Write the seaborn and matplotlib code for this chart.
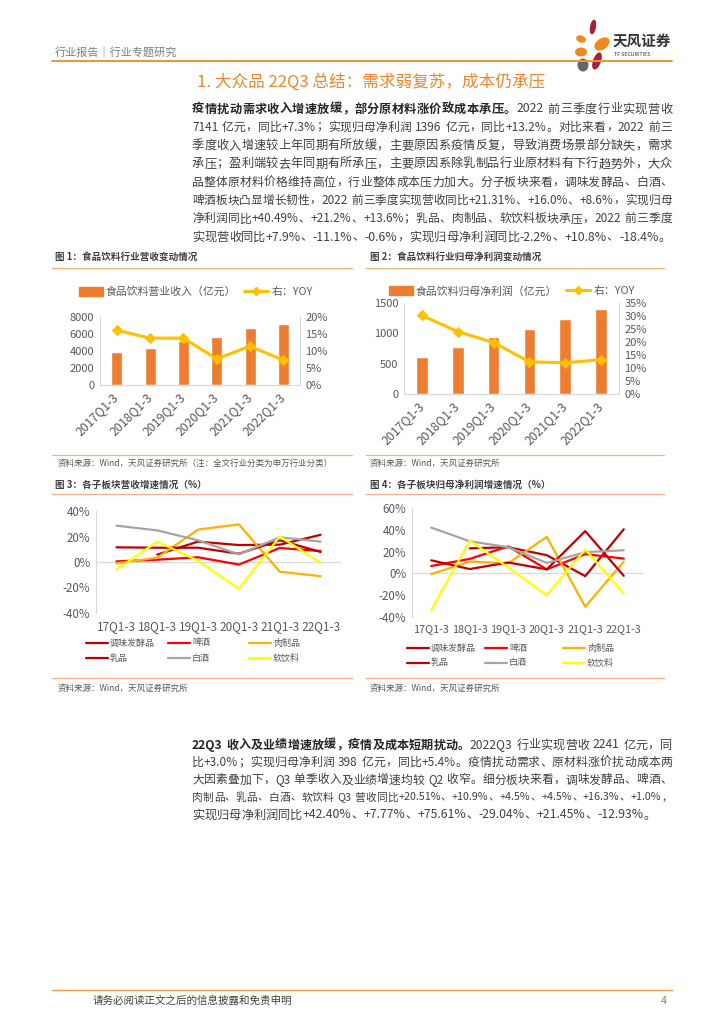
import re
import numpy as np
import pandas as pd
import matplotlib
matplotlib.use('Agg')
import matplotlib.pyplot as plt
import seaborn as sns
from matplotlib.patches import Ellipse, Rectangle
from matplotlib.lines import Line2D

# ---- data ----
years = ['2017Q1-3', '2018Q1-3', '2019Q1-3', '2020Q1-3', '2021Q1-3', '2022Q1-3']
revenue = [3840, 4390, 5210, 5690, 6700, 7141]          # 亿元
revenue_yoy = [16.1, 13.8, 13.8, 7.7, 11.4, 7.3]        # %
profit = [607, 778, 943, 1070, 1241, 1396]              # 亿元
profit_yoy = [30.2, 24.0, 19.8, 12.4, 12.0, 13.2]       # %

quarters = ['17Q1-3', '18Q1-3', '19Q1-3', '20Q1-3', '21Q1-3', '22Q1-3']
sectors = ['调味发酵品', '啤酒', '肉制品', '乳品', '白酒', '软饮料']
sector_colors = ['#C00000', '#FF0000', '#FFB000', '#C00000', '#A5A5A5', '#FFFF00']

# 营收增速 (%)
rev_seasoning = [np.nan, 5.8, 16.0, 13.3, 13.6, 21.3]
rev_beer = [0.5, 1.8, 3.7, -2.0, 11.0, 8.6]
rev_meat = [-1.0, 3.4, 25.4, 29.5, -7.6, -11.1]
rev_dairy = [11.5, 11.2, 11.2, 6.5, 17.0, 7.9]
rev_baijiu = [28.5, 24.8, 17.0, 6.0, 19.4, 16.0]
rev_soft = [-6.0, 16.0, 1.0, -21.0, 20.0, -0.6]

# 归母净利润增速 (%)
np_seasoning = [np.nan, 23.0, 24.0, 16.7, -2.5, 40.5]
np_beer = [6.8, 13.3, 24.8, 3.7, 17.7, 13.6]
np_meat = [-0.6, 10.8, 9.3, 33.5, -30.5, 10.8]
np_dairy = [12.0, 4.0, 10.0, 3.7, 38.8, -2.2]
np_baijiu = [42.0, 29.5, 24.0, 9.6, 19.5, 21.2]
np_soft = [-33.5, 30.0, 5.6, -20.0, 22.0, -18.4]

para1 = [
    [('疫情扰动需求收入增速放缓，部分原材料涨价致成本承压。', 'bold'), ('2022 前三季度行业实现营收', 'normal')],
    [('7141 亿元，同比+7.3%；实现归母净利润 1396 亿元，同比+13.2%。对比来看，2022 前三', 'normal')],
    [('季度收入增速较上年同期有所放缓，主要原因系疫情反复，导致消费场景部分缺失，需求', 'normal')],
    [('承压；盈利端较去年同期有所承压，主要原因系除乳制品行业原材料有下行趋势外，大众', 'normal')],
    [('品整体原材料价格维持高位，行业整体成本压力加大。分子板块来看，调味发酵品、白酒、', 'normal')],
    [('啤酒板块凸显增长韧性，2022 前三季度实现营收同比+21.31%、+16.0%、+8.6%，实现归母', 'normal')],
    [('净利润同比+40.49%、+21.2%、+13.6%；乳品、肉制品、软饮料板块承压，2022 前三季度', 'normal')],
    [('实现营收同比+7.9%、-11.1%、-0.6%，实现归母净利润同比-2.2%、+10.8%、-18.4%。', 'normal')],
]
para2 = [
    [('22Q3 收入及业绩增速放缓，疫情及成本短期扰动。', 'bold'), ('2022Q3 行业实现营收 2241 亿元，同', 'normal')],
    [('比+3.0%；实现归母净利润 398 亿元，同比+5.4%。疫情扰动需求、原材料涨价扰动成本两', 'normal')],
    [('大因素叠加下，Q3 单季收入及业绩增速均较 Q2 收窄。细分板块来看，调味发酵品、啤酒、', 'normal')],
    [('肉制品、乳品、白酒、软饮料 Q3 营收同比+20.51%、+10.9%、+4.5%、+4.5%、+16.3%、+1.0%，', 'normal')],
    [('实现归母净利润同比+42.40%、+7.77%、+75.61%、-29.04%、+21.45%、-12.93%。', 'normal')],
]

# ---- style ----
sns.set_style('white')
FONT = ['Noto Sans CJK SC', 'DejaVu Sans']
plt.rcParams['font.family'] = FONT
plt.rcParams['axes.unicode_minus'] = False

W, H = 724, 1024
fig = plt.figure(figsize=(W / 100, H / 100), dpi=100)
r = fig.canvas.get_renderer()

ORANGE = '#ED7D31'
GOLD = '#FFC000'
GRID = '#D9D9D9'
TICK = '#595959'
BODY = '#404040'


def fx(x):
    return x / W


def fy(y):
    return 1 - y / H


def box(left, top, right, bottom):
    return fig.add_axes([fx(left), fy(bottom), (right - left) / W, (bottom - top) / H])


def hline(x0, x1, y, color, lw=0.9):
    fig.add_artist(Line2D([fx(x0), fx(x1)], [fy(y), fy(y)], color=color, lw=lw))


def put_line(parts, x0, x1, y, size, justify=True):
    # lay out one justified line token by token
    toks = []
    for txt, weight in parts:
        for m in re.finditer(r'( ?)([A-Za-z0-9.+\-%]+|\S)', txt):
            toks.append((m.group(2), weight, m.group(1) == ' '))
    objs = [fig.text(0, fy(y), t, fontsize=size, fontweight=w, va='center', ha='left',
                     color='#262626' if w == 'bold' else BODY, family=FONT) for t, w, _ in toks]
    n_sp = sum(1 for t in toks[1:] if t[2])

    def measure(sz):
        ws = [o.get_window_extent(r).width for o in objs]
        return ws, sum(ws) + sz * 1.39 * 0.3 * n_sp

    widths, total = measure(size)
    if total > x1 - x0:
        # line too long: shrink its font a little so it fits
        size = size * (x1 - x0) / total * 0.995
        for o in objs:
            o.set_fontsize(size)
        widths, total = measure(size)
    space = size * 1.39 * 0.3
    extra = (x1 - x0 - total) / (len(toks) - 1) if justify and len(toks) > 1 else 0
    extra = max(extra, 0)
    x = x0
    for i, (o, wd) in enumerate(zip(objs, widths)):
        if i > 0 and toks[i][2]:
            x += space
        o.set_x(fx(x))
        x += wd + extra


# ---- page header ----
fig.text(fx(55), fy(52), '行业报告｜行业专题研究', fontsize=8, color='#7F7F7F', va='center')
hline(52, 672, 61, '#F0923A', 1.4)
lg = fig.add_axes([fx(565), fy(74), 50 / W, 58 / H])
lg.set_xlim(565, 615)
lg.set_ylim(74, 16)
lg.axis('off')
for (cx, cy, ew, eh, ang, col) in [(593, 27, 6, 15, 10, '#A8213A'), (581, 39, 10, 7, 20, '#F08A1C'),
                                   (602, 44, 17, 11, -35, '#F08A1C'), (581, 52, 12, 9, 0, '#F08A1C'),
                                   (583, 65, 11, 13, 0, '#666666'), (597, 61, 8, 18, 20, '#A8213A')]:
    lg.add_patch(Ellipse((cx, cy), ew, eh, angle=ang, color=col, lw=0))
fig.text(fx(613), fy(41), '天风证券', fontsize=10.5, fontweight='bold', color='#333333', va='center')
fig.text(fx(614), fy(54), 'TF SECURITIES', fontsize=3.8, color='#333333', va='center')

fig.text(fx(371), fy(82), '1. 大众品 22Q3 总结：需求弱复苏，成本仍承压', fontsize=12,
         color='#F0862A', ha='center', va='center')

for i, parts in enumerate(para1):
    put_line(parts, 192, 672, 109 + i * 18.3, 8.8, justify=i < len(para1) - 1)

# ---- captions ----
fig.text(fx(55), fy(257), '图 1：食品饮料行业营收变动情况', fontsize=6.9, fontweight='bold', color=BODY, va='center')
fig.text(fx(370), fy(257), '图 2：食品饮料行业归母净利润变动情况', fontsize=6.9, fontweight='bold', color=BODY, va='center')
hline(52, 352, 268, '#F7B27A')
hline(366, 664, 268, '#F7B27A')


def bar_line(left, top, right, bottom, vals, yoy, ymax, ystep, rmax, rstep, label, leg_x, leg_y, gap):
    ax = box(left, top, right, bottom)
    df = pd.DataFrame({'期间': years, '值': vals, 'YOY': yoy})
    sns.barplot(data=df, x='期间', y='值', color=ORANGE, width=0.33, saturation=1, ax=ax)
    ax2 = ax.twinx()
    sns.lineplot(data=df, x='期间', y='YOY', color=GOLD, lw=2.2, marker='D', markersize=5,
                 markeredgecolor=GOLD, ax=ax2, sort=False)
    ax.set_xlim(-0.5, 5.5)
    ax.set_ylim(0, ymax)
    ax.set_yticks(np.arange(0, ymax + 1, ystep))
    ax2.set_ylim(0, rmax)
    ax2.set_yticks(np.arange(0, rmax + 0.1, rstep))
    ax2.set_yticklabels([f'{v:.0f}%' for v in np.arange(0, rmax + 0.1, rstep)])
    for a in (ax, ax2):
        a.set_xlabel('')
        a.set_ylabel('')
        a.tick_params(length=0, labelsize=8, labelcolor=TICK, pad=4)
        for s in a.spines.values():
            s.set_color(GRID)
            s.set_linewidth(0.8)
        a.spines['top'].set_visible(False)
    ax.spines['right'].set_visible(False)
    ax.tick_params(axis='x', pad=7, labelsize=8.8)
    for t in ax.get_xticklabels():
        t.set_rotation(45)
        t.set_ha('right')
        t.set_va('center')
        t.set_rotation_mode('anchor')
    h = [Rectangle((0, 0), 1, 1, color=ORANGE),
         Line2D([], [], color=GOLD, lw=2.2, marker='D', markersize=4)]
    fig.legend(h, [label, '右：YOY'], loc='center left', bbox_to_anchor=(fx(leg_x), fy(leg_y)),
               ncol=2, frameon=False, fontsize=7.8, handlelength=2.2, handleheight=0.8,
               columnspacing=gap, handletextpad=0.3, borderpad=0, borderaxespad=0, labelcolor=TICK)


bar_line(100, 317, 300, 385, revenue, revenue_yoy, 8000, 2000, 20, 5,
         '食品饮料营业收入（亿元）', 79, 292, 0.7)
bar_line(404, 303, 619, 394, profit, profit_yoy, 1500, 500, 35, 5,
         '食品饮料归母净利润（亿元）', 389, 291, 0.8)

hline(52, 352, 455, '#F7B27A')
hline(366, 664, 455, '#F7B27A')
fig.text(fx(58), fy(463), '资料来源：Wind，天风证券研究所（注：全文行业分类为申万行业分类）', fontsize=6.1, color=TICK, va='center')
fig.text(fx(370), fy(463), '资料来源：Wind，天风证券研究所', fontsize=6.1, color=TICK, va='center')

fig.text(fx(55), fy(485), '图 3：各子板块营收增速情况（%）', fontsize=6.9, fontweight='bold', color=BODY, va='center')
fig.text(fx(370), fy(485), '图 4：各子板块归母净利润增速情况（%）', fontsize=6.9, fontweight='bold', color=BODY, va='center')
hline(52, 352, 494, '#F7B27A')
hline(366, 664, 494, '#F7B27A')


def sector_chart(left, top, right, bottom, series, ymin, ymax, leg_cols, leg_rows, xsize):
    ax = box(left, top, right, bottom)
    df = pd.DataFrame({'季度': quarters * len(sectors),
                       '板块': np.repeat(sectors, len(quarters)),
                       '增速': np.concatenate(series)})
    ax.axhline(0, color=GRID, lw=0.9, zorder=0)
    sns.lineplot(data=df, x='季度', y='增速', hue='板块', hue_order=sectors,
                 palette=dict(zip(sectors, sector_colors)), lw=1.6, sort=False, legend=False, ax=ax)
    ax.set_xlim(-0.5, 5.5)
    ax.set_ylim(ymin, ymax)
    ticks = np.arange(ymin, ymax + 1, 20)
    ax.set_yticks(ticks)
    ax.set_yticklabels([f'{v:.0f}%' for v in ticks])
    ax.set_xlabel('')
    ax.set_ylabel('')
    ax.tick_params(length=0, labelsize=8.3, labelcolor=TICK, pad=4)
    ax.tick_params(axis='x', labelsize=xsize, pad=5)
    for s in ('top', 'right', 'bottom'):
        ax.spines[s].set_visible(False)
    ax.spines['left'].set_color(GRID)
    ax.spines['left'].set_linewidth(0.8)
    for i, (name, col) in enumerate(zip(sectors, sector_colors)):
        x0 = leg_cols[i % 3]
        y0 = leg_rows[i // 3]
        fig.add_artist(Line2D([fx(x0), fx(x0 + 22)], [fy(y0), fy(y0)], color=col, lw=1.6))
        fig.text(fx(x0 + 24), fy(y0), name, fontsize=6.5, color=TICK, va='center')


sector_chart(96, 511, 341, 613, [rev_seasoning, rev_beer, rev_meat, rev_dairy, rev_baijiu, rev_soft],
             -40, 40, [86, 168, 249], [643, 658], 8.5)
sector_chart(412, 508, 643, 617, [np_seasoning, np_beer, np_meat, np_dairy, np_baijiu, np_soft],
             -40, 60, [407, 485, 563], [648, 663], 7.8)

hline(52, 352, 678, '#F7B27A')
hline(366, 664, 678, '#F7B27A')
fig.text(fx(58), fy(688), '资料来源：Wind，天风证券研究所', fontsize=6.1, color=TICK, va='center')
fig.text(fx(370), fy(688), '资料来源：Wind，天风证券研究所', fontsize=6.1, color=TICK, va='center')

for i, parts in enumerate(para2):
    put_line(parts, 192, 672, 745 + i * 17.5, 8.8, justify=i < len(para2) - 1)

# ---- footer ----
hline(52, 672, 990, '#F0A040', 1.0)
fig.text(fx(93), fy(1001), '请务必阅读正文之后的信息披露和免责申明', fontsize=7.6, color=BODY, va='center')
fig.text(fx(667), fy(1001), '4', fontsize=7.6, color='#7F7F7F', va='center', ha='right')

fig.savefig('out.png', dpi=100)
